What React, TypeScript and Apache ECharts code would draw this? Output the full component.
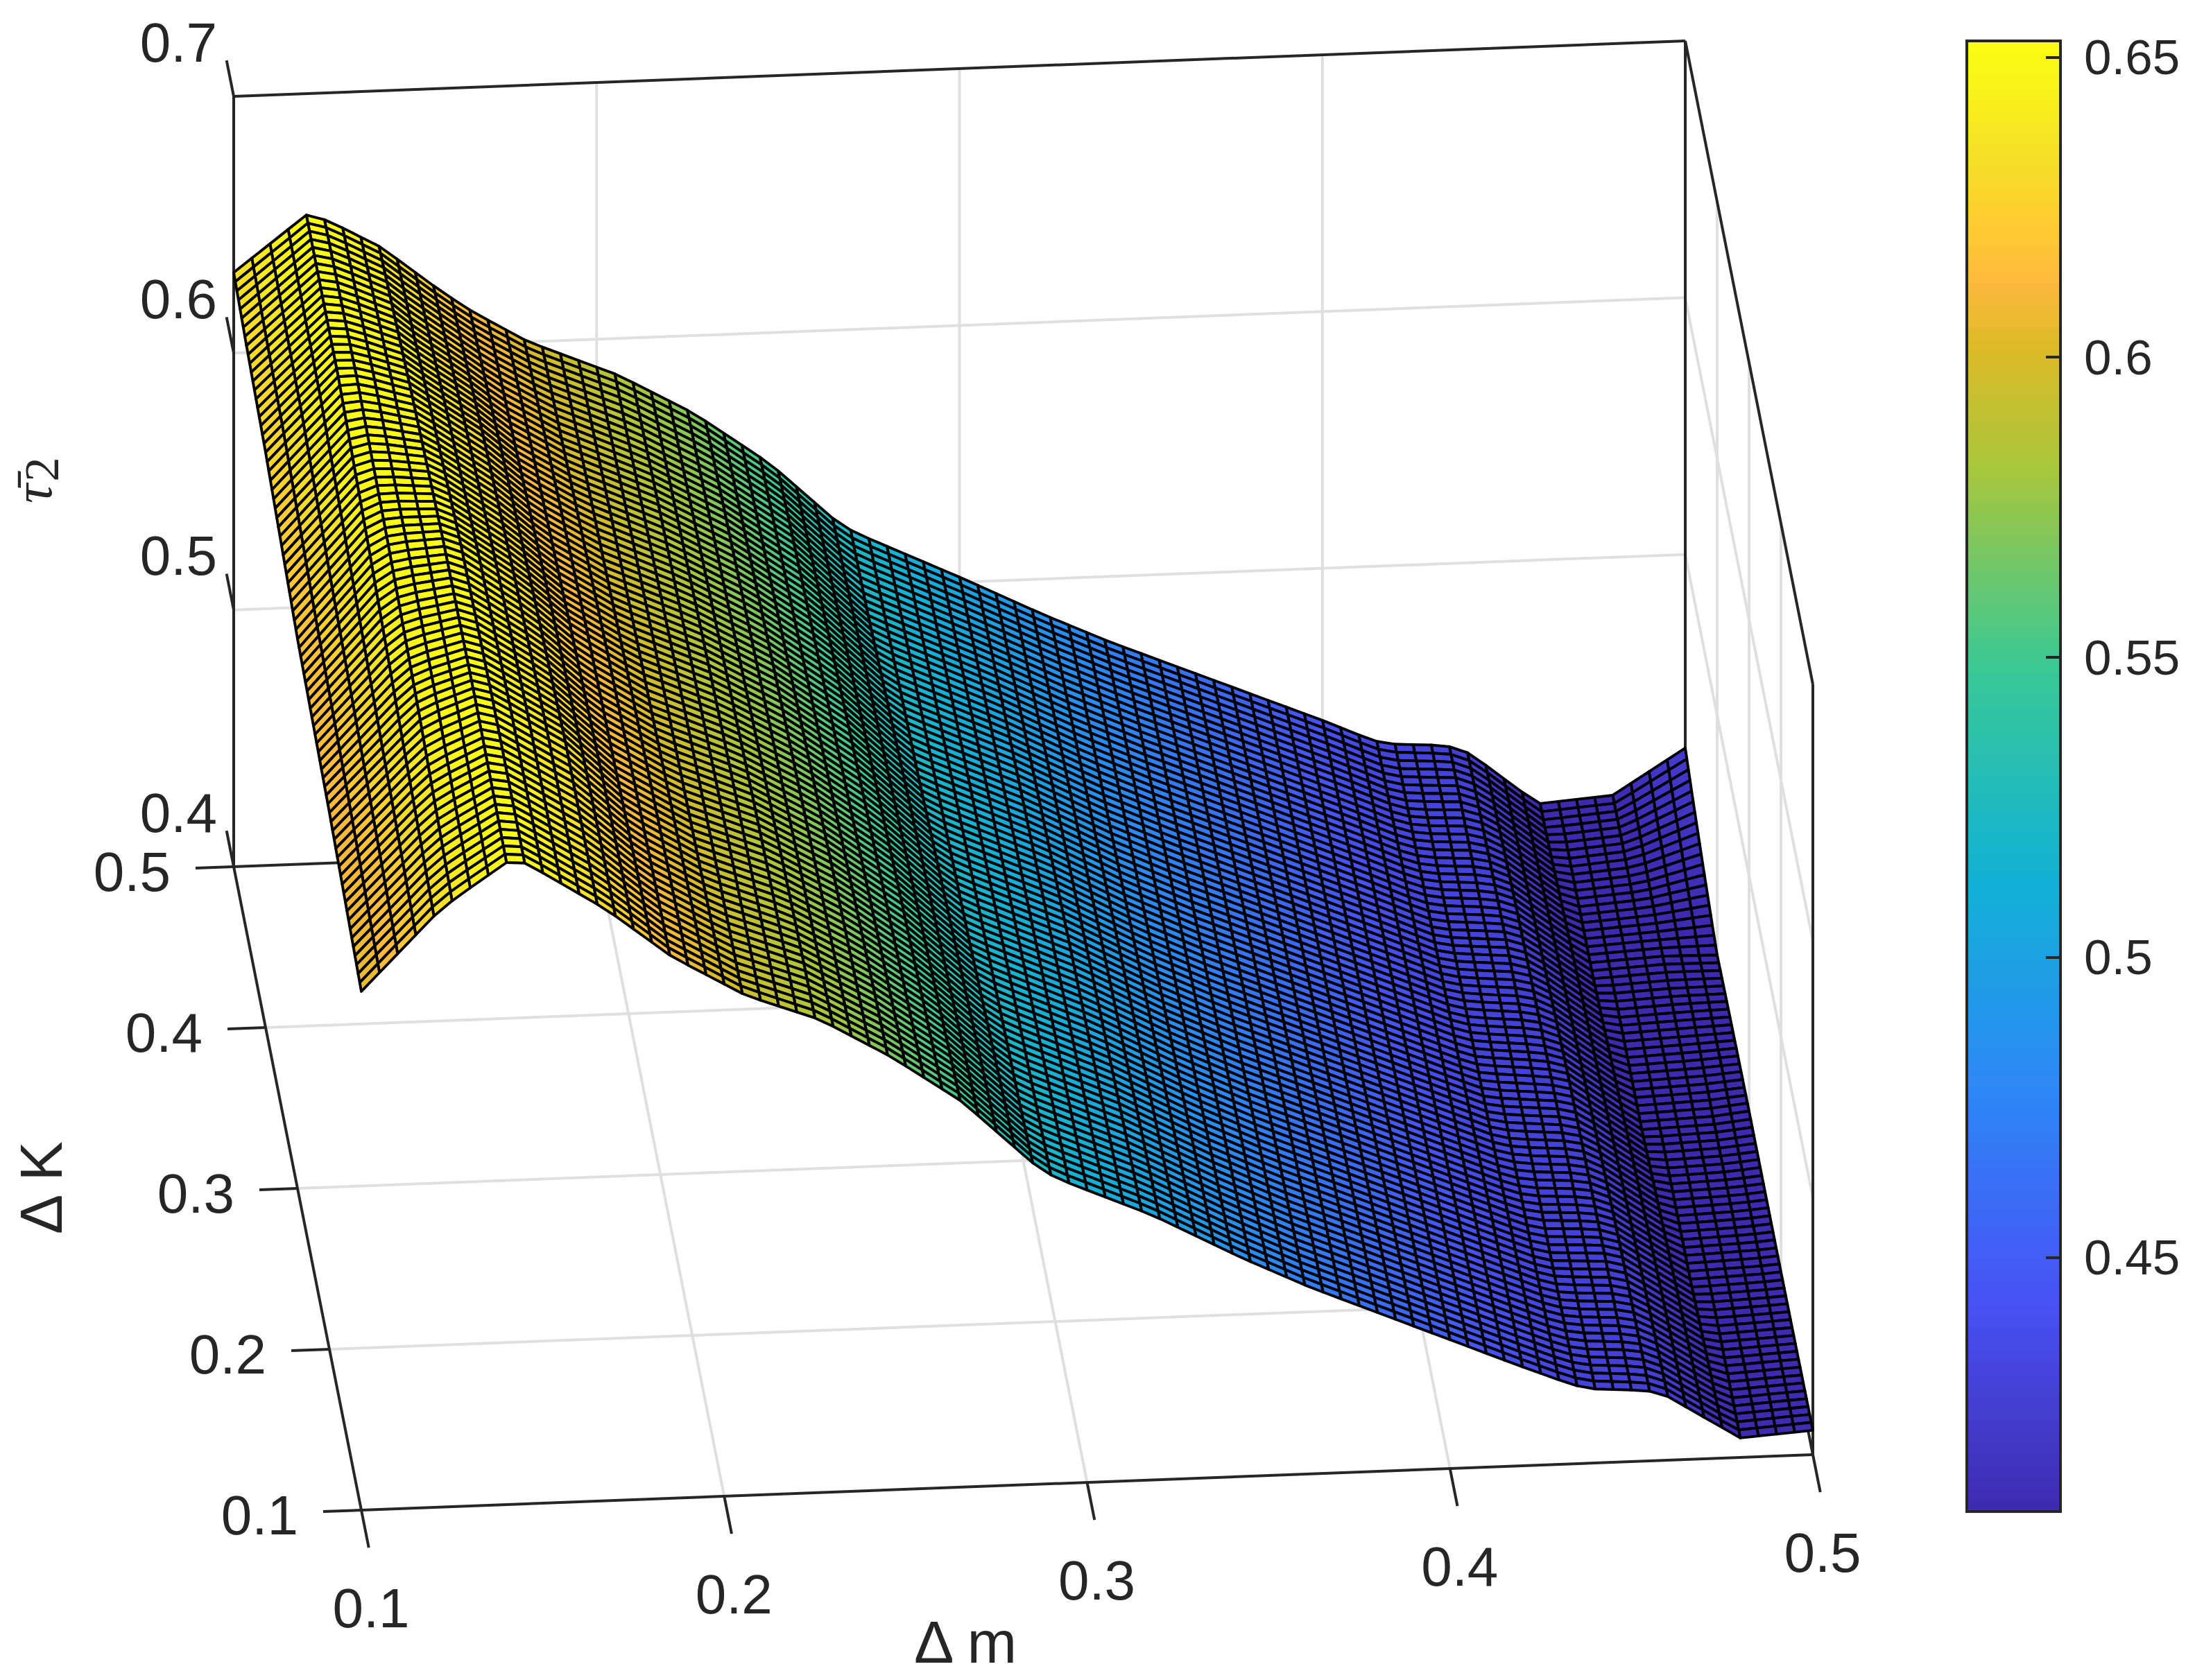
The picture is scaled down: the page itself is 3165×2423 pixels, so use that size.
import React, { useEffect, useRef } from "react";
import * as echarts from "echarts";

// ---------- data ----------
const mTicks = [0.1, 0.2, 0.3, 0.4, 0.5];
const kTicks = [0.1, 0.2, 0.3, 0.4, 0.5];
const zTicks = [0.4, 0.5, 0.6, 0.7];
const colorbarTicks = [0.45, 0.5, 0.55, 0.6, 0.65];
const colorbarRange = [0.4077, 0.6527];

// Crease lines of the surface: m position of each crease at ΔK = 0.5 and at ΔK = 0.1
const creaseMAtK05 = [0.1, 0.12, 0.126, 0.1404, 0.1454, 0.1574, 0.166, 0.1812, 0.206, 0.227, 0.2478, 0.2674, 0.2734, 0.2998, 0.323, 0.3414, 0.4, 0.414, 0.4192, 0.434, 0.4406, 0.4594, 0.48, 0.5];
const creaseMAtK01 = [0.1, 0.1208, 0.126, 0.1406, 0.1454, 0.1676, 0.1856, 0.206, 0.2266, 0.2462, 0.2656, 0.287, 0.2924, 0.318, 0.343, 0.3614, 0.42, 0.4338, 0.439, 0.454, 0.459, 0.48, 0.5, 0.52];

// Surface height along each crease, one array per ΔK row
const kRows = [0.1, 0.2, 0.3, 0.4, 0.46, 0.5];
const zRowK010 = [0.602, 0.6314, 0.637, 0.6506, 0.6495, 0.6302, 0.6109, 0.5947, 0.5841, 0.5685, 0.5501, 0.5227, 0.5184, 0.5031, 0.4849, 0.4727, 0.4385, 0.4308, 0.4289, 0.4275, 0.4257, 0.4076, 0.4095, 0.41];
const zRowK020 = [0.609, 0.638, 0.645, 0.6525, 0.65, 0.633, 0.613, 0.597, 0.585, 0.569, 0.549, 0.523, 0.519, 0.503, 0.485, 0.473, 0.439, 0.431, 0.429, 0.428, 0.426, 0.407, 0.408, 0.41];
const zRowK030 = [0.614, 0.646, 0.65, 0.651, 0.648, 0.631, 0.615, 0.599, 0.585, 0.569, 0.549, 0.523, 0.519, 0.503, 0.485, 0.473, 0.439, 0.431, 0.43, 0.428, 0.426, 0.406, 0.407, 0.41];
const zRowK040 = [0.624, 0.6527, 0.6525, 0.646, 0.641, 0.627, 0.614, 0.6, 0.585, 0.569, 0.549, 0.523, 0.519, 0.5025, 0.4855, 0.474, 0.44, 0.4315, 0.43, 0.4285, 0.4255, 0.4055, 0.407, 0.4065];
const zRowK046 = [0.628, 0.6527, 0.651, 0.642, 0.636, 0.623, 0.613, 0.6, 0.585, 0.569, 0.549, 0.523, 0.519, 0.502, 0.486, 0.4745, 0.4405, 0.432, 0.43, 0.429, 0.4255, 0.405, 0.4075, 0.4175];
const zRowK050 = [0.6314, 0.6527, 0.6502, 0.6392, 0.6338, 0.6207, 0.6124, 0.6, 0.5857, 0.5695, 0.5489, 0.5238, 0.5194, 0.5021, 0.4862, 0.4745, 0.4408, 0.4321, 0.4305, 0.4292, 0.4257, 0.4051, 0.4073, 0.4246];
const zRows = [zRowK010, zRowK020, zRowK030, zRowK040, zRowK046, zRowK050];

// Colour map: position in [0, 1], then colour
const colorPositions = [0, 0.143, 0.286, 0.429, 0.571, 0.714, 0.79, 0.837, 0.879, 0.913, 1];
const colorValues = ["#3E2AB0", "#4852F4", "#2D87F7", "#12B1D6", "#37C897", "#ABC739", "#DCBA28", "#FFB93D", "#FFCD30", "#F6DC28", "#FAFF10"];

const INK = "#262626";
const GRID = "#DFDFDF";
const FONT = "Liberation Sans";

// ---------- view: orthographic projection of the 3-D box ----------
const origin = [521, 2178];
const mVector = [2093, -80];
const kVector = [-184, -928];
const zVector = [0, -1111];
function project(m: number, k: number, z: number): number[] {
  const a = (m - 0.1) / 0.4;
  const b = (k - 0.1) / 0.4;
  const c = (z - 0.4) / 0.3;
  return [
    origin[0] + a * mVector[0] + b * kVector[0] + c * zVector[0],
    origin[1] + a * mVector[1] + b * kVector[1] + c * zVector[1],
  ];
}

function lerp(a: number, b: number, t: number) {
  return a + (b - a) * t;
}

function heightAt(m: number, k: number): number {
  const f = (k - 0.1) / 0.4;
  let r = 0;
  while (r < kRows.length - 2 && k > kRows[r + 1]) r++;
  const rt = (k - kRows[r]) / (kRows[r + 1] - kRows[r]);
  let j = 0;
  const pos = (i: number) => lerp(creaseMAtK01[i], creaseMAtK05[i], f);
  while (j < creaseMAtK05.length - 2 && m > pos(j + 1)) j++;
  const t = (m - pos(j)) / (pos(j + 1) - pos(j));
  const z0 = lerp(zRows[r][j], zRows[r + 1][j], rt);
  const z1 = lerp(zRows[r][j + 1], zRows[r + 1][j + 1], rt);
  return lerp(z0, z1, t);
}

function hexToRgb(h: string) {
  return [1, 3, 5].map((i) => parseInt(h.slice(i, i + 2), 16));
}
function colorAt(v: number): string {
  const t = Math.min(1, Math.max(0, (v - colorbarRange[0]) / (colorbarRange[1] - colorbarRange[0])));
  let i = 0;
  while (i < colorPositions.length - 2 && t > colorPositions[i + 1]) i++;
  const u = (t - colorPositions[i]) / (colorPositions[i + 1] - colorPositions[i]);
  const a = hexToRgb(colorValues[i]);
  const b = hexToRgb(colorValues[i + 1]);
  return `rgb(${a.map((c, n) => Math.round(lerp(c, b[n], u))).join(",")})`;
}

// Mesh of the surface, far cells first so that the near ones paint over them
const MESH_CELLS = 80;
function buildCells() {
  const out: number[][] = [];
  const step = 0.4 / MESH_CELLS;
  for (let kj = MESH_CELLS - 1; kj >= 0; kj--) {
    for (let mi = MESH_CELLS - 1; mi >= 0; mi--) {
      const m0 = 0.1 + mi * step;
      const m1 = m0 + step;
      const k0 = 0.1 + kj * step;
      const k1 = k0 + step;
      out.push([m0, m1, k0, k1, heightAt(m0, k0), heightAt(m1, k0), heightAt(m1, k1), heightAt(m0, k1)]);
    }
  }
  return out;
}

// Straight parts of the box, as [m, k, z] ends
type Seg = number[];
const gridSegs: Seg[] = [];
for (const m of [0.2, 0.3, 0.4]) {
  gridSegs.push([m, 0.5, 0.4, m, 0.5, 0.7]);
  gridSegs.push([m, 0.1, 0.4, m, 0.5, 0.4]);
}
for (const k of [0.2, 0.3, 0.4]) {
  gridSegs.push([0.5, k, 0.4, 0.5, k, 0.7]);
  gridSegs.push([0.1, k, 0.4, 0.5, k, 0.4]);
}
for (const z of [0.5, 0.6]) {
  gridSegs.push([0.1, 0.5, z, 0.5, 0.5, z]);
  gridSegs.push([0.5, 0.1, z, 0.5, 0.5, z]);
}
const boxSegs: Seg[] = [
  [0.1, 0.5, 0.7, 0.5, 0.5, 0.7],
  [0.5, 0.5, 0.7, 0.5, 0.1, 0.7],
  [0.1, 0.5, 0.4, 0.1, 0.5, 0.7],
  [0.5, 0.5, 0.4, 0.5, 0.5, 0.7],
  [0.5, 0.1, 0.4, 0.5, 0.1, 0.7],
  [0.1, 0.5, 0.4, 0.5, 0.5, 0.4],
  [0.5, 0.5, 0.4, 0.5, 0.1, 0.4],
  [0.1, 0.1, 0.4, 0.5, 0.1, 0.4],
  [0.1, 0.1, 0.4, 0.1, 0.5, 0.4],
];
const tickSegs: Seg[] = [
  ...mTicks.map((m) => [m, 0.1, 0.4, m, 0.1 - 0.0233, 0.4]),
  ...kTicks.map((k) => [0.1, k, 0.4, 0.1 - 0.0105, k, 0.4]),
  ...zTicks.map((z) => [0.1, 0.5, z, 0.1, 0.5 + 0.0224, z]),
];

// Tick labels: text, anchor in the box, pixel offset, alignment
const tickLabels: any[] = [
  ...mTicks.map((m) => [m.toFixed(1), m, 0.1, 0.4, 14, 141, "center"]),
  ...kTicks.map((k) => [k.toFixed(1), 0.1, k, 0.4, -91, 7, "right"]),
  ...zTicks.map((z) => [z.toFixed(1), 0.1, 0.5, z, -24, -78, "right"]),
];

const COLORBAR_LEVELS = 128;
function buildBarColor(i: number): string {
  const [lo, hi] = colorbarRange;
  return colorAt(lo + ((hi - lo) * (i + 0.5)) / COLORBAR_LEVELS);
}
function buildColorbar() {
  const [lo, hi] = colorbarRange;
  const out: number[][] = [];
  for (let i = 0; i < COLORBAR_LEVELS; i++) {
    out.push([lo + ((hi - lo) * i) / COLORBAR_LEVELS, lo + ((hi - lo) * (i + 1)) / COLORBAR_LEVELS]);
  }
  return out;
}

function segRender(color: string, width: number) {
  return (_: any, api: any) => {
    const a = api.coord(project(api.value(0), api.value(1), api.value(2)));
    const b = api.coord(project(api.value(3), api.value(4), api.value(5)));
    return {
      type: "line",
      shape: { x1: a[0], y1: a[1], x2: b[0], y2: b[1] },
      style: { stroke: color, lineWidth: width, fill: "none", lineCap: "butt" },
    };
  };
}

export default function App() {
  const ref = useRef<HTMLDivElement>(null);
  useEffect(() => {
    document.body.style.margin = "0";
    document.body.style.overflow = "hidden";
    const chart = echarts.init(ref.current!, undefined, { renderer: "svg" });
    const cells = buildCells();
    const base = {
      type: "custom",
      coordinateSystem: "cartesian2d",
      xAxisIndex: 0,
      yAxisIndex: 0,
      silent: true,
      clip: false,
      progressive: 0,
      animation: false,
    };
    chart.setOption({
      animation: false,
      backgroundColor: "#fff",
      grid: [
        { left: 0, top: 0, width: 3165, height: 2423, show: false },
        { left: 2836, top: 59, width: 135, height: 2121, show: false },
      ],
      xAxis: [
        { type: "value", gridIndex: 0, min: 0, max: 3165, show: false },
        { type: "value", gridIndex: 1, min: 0, max: 1, show: false },
      ],
      yAxis: [
        { type: "value", gridIndex: 0, min: 0, max: 2423, inverse: true, show: false },
        {
          type: "value",
          gridIndex: 1,
          position: "right",
          min: colorbarRange[0],
          max: colorbarRange[1],
          z: 10,
          splitLine: { show: false },
          axisLine: { show: false, onZero: false },
          axisTick: {
            show: true,
            inside: true,
            length: 21,
            customValues: colorbarTicks,
            lineStyle: { color: INK, width: 4 },
          },
          axisLabel: {
            show: true,
            customValues: colorbarTicks,
            margin: 34,
            color: INK,
            fontSize: 71,
            fontFamily: FONT,
            formatter: (v: number) => String(v),
          },
        },
      ],
      series: [
        { ...base, name: "grid", z: 1, data: gridSegs, renderItem: segRender(GRID, 4) },
        { ...base, name: "box", z: 2, data: boxSegs, renderItem: segRender(INK, 4) },
        { ...base, name: "ticks", z: 2, data: tickSegs, renderItem: segRender(INK, 4) },
        {
          ...base,
          name: "surface",
          z: 3,
          data: cells,
          renderItem: (_: any, api: any) => {
            const m0 = api.value(0);
            const m1 = api.value(1);
            const k0 = api.value(2);
            const k1 = api.value(3);
            const z = [api.value(4), api.value(5), api.value(6), api.value(7)];
            const pts = [
              project(m0, k0, z[0]),
              project(m1, k0, z[1]),
              project(m1, k1, z[2]),
              project(m0, k1, z[3]),
            ].map((p) => api.coord(p));
            return {
              type: "polygon",
              shape: { points: pts },
              style: {
                fill: colorAt((z[0] + z[1] + z[2] + z[3]) / 4),
                stroke: "#000",
                lineWidth: 3.9,
                lineJoin: "round",
              },
            };
          },
        },
        {
          ...base,
          name: "tick labels",
          z: 4,
          data: tickLabels.map((t) => [t[1], t[2], t[3], t[4], t[5]]),
          renderItem: (params: any, api: any) => {
            const t = tickLabels[params.dataIndex];
            const p = api.coord(project(api.value(0), api.value(1), api.value(2)));
            return {
              type: "text",
              x: p[0] + api.value(3),
              y: p[1] + api.value(4),
              style: {
                text: t[0],
                fill: INK,
                fontSize: 80,
                fontFamily: FONT,
                align: t[6],
                verticalAlign: "middle",
              },
            };
          },
        },
        {
          type: "custom",
          name: "colour bar",
          coordinateSystem: "cartesian2d",
          xAxisIndex: 1,
          yAxisIndex: 1,
          silent: true,
          progressive: 0,
          z: 3,
          data: buildColorbar(),
          renderItem: (params: any, api: any) => {
            const a = api.coord([0, api.value(0)]);
            const b = api.coord([1, api.value(1)]);
            return {
              type: "rect",
              shape: { x: a[0], y: b[1], width: b[0] - a[0], height: a[1] - b[1] + 1 },
              style: { fill: buildBarColor(params.dataIndex) },
            };
          },
        },
        {
          type: "custom",
          name: "colour bar frame",
          coordinateSystem: "cartesian2d",
          xAxisIndex: 1,
          yAxisIndex: 1,
          silent: true,
          z: 4,
          data: [[0, colorbarRange[0], 1, colorbarRange[1]]],
          renderItem: (_: any, api: any) => {
            const a = api.coord([api.value(0), api.value(1)]);
            const b = api.coord([api.value(2), api.value(3)]);
            return {
              type: "rect",
              shape: { x: a[0], y: b[1], width: b[0] - a[0], height: a[1] - b[1] },
              style: { fill: "none", stroke: INK, lineWidth: 4 },
            };
          },
        },
      ],
      graphic: [
        {
          type: "text",
          x: 1392,
          y: 2368,
          style: { text: "Δ m", fill: INK, fontSize: 86, fontFamily: FONT, textAlign: "center", textVerticalAlign: "middle" },
        },
        {
          type: "text",
          x: 59,
          y: 1713,
          rotation: Math.PI / 2,
          style: { text: "Δ K", fill: INK, fontSize: 86, fontFamily: FONT, textAlign: "center", textVerticalAlign: "middle" },
        },
        {
          type: "text",
          x: 47,
          y: 712,
          rotation: Math.PI / 2,
          style: { text: "τ̄", fill: INK, fontSize: 78, fontStyle: "italic", fontFamily: "Liberation Serif", textAlign: "center", textVerticalAlign: "middle" },
        },
        {
          type: "text",
          x: 60,
          y: 677,
          rotation: Math.PI / 2,
          style: { text: "2", fill: INK, fontSize: 70, fontFamily: "Liberation Serif", textAlign: "center", textVerticalAlign: "middle" },
        },
      ],
    });
    return () => chart.dispose();
  }, []);
  return <div ref={ref} style={{ width: 3165, height: 2423 }} />;
}
